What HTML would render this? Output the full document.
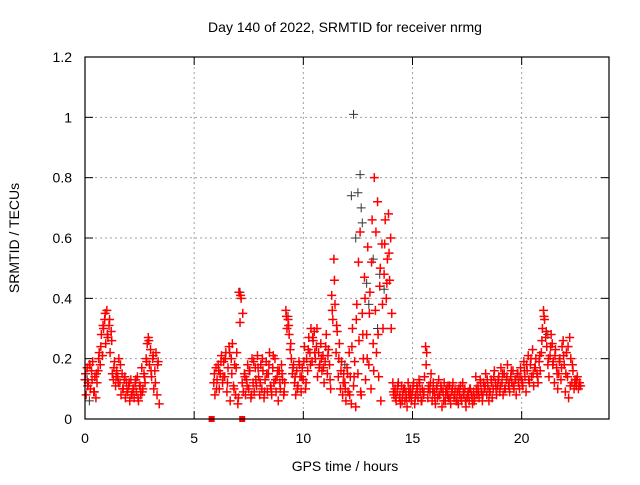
<!DOCTYPE html>
<html><head><meta charset="utf-8"><style>
body{margin:0;background:#fff;}
svg{font-family:"Liberation Sans",sans-serif;}
</style></head><body>
<svg id="chart" width="640" height="480" xmlns="http://www.w3.org/2000/svg">
<rect width="640" height="480" fill="#fff"/>
<text x="345" y="32" text-anchor="middle" font-size="14">Day 140 of 2022, SRMTID for receiver nrmg</text>
<text x="345" y="471" text-anchor="middle" font-size="14">GPS time / hours</text>
<text transform="translate(19,238) rotate(-90)" text-anchor="middle" font-size="14">SRMTID / TECUs</text>
<g id="grid"></g>
<g id="axes"></g>
<g id="black"></g>
<g id="red"></g>
<rect x="85" y="57" width="524" height="362" fill="none" stroke="#000" stroke-width="1.2"/>
</svg>
<script>
const xTicks=[0,5,10,15,20];
const yTicks=[0,0.2,0.4,0.6,0.8,1,1.2];
const yTickLabels=["0","0.2","0.4","0.6","0.8","1","1.2"];
const segAStart=0, segAStep=0.05;
const segAValues=[0.13,0.08,0.17,0.12,0.18,0.10,0.16,0.19,0.09,0.14,0.07,0.12,0.16,0.22,0.18,0.28,0.21,0.30,0.33,0.25,0.36,0.27,0.31,0.22,0.29,0.15,0.13,0.19,0.11,0.16,0.14,0.20,0.12,0.08,0.15,0.10,0.13,0.07,0.12,0.09,0.11,0.06,0.13,0.08,0.10,0.07,0.12,0.09,0.14,0.06,0.11,0.08,0.17,0.10,0.15,0.12,0.20,0.25,0.27,0.18,0.23,0.14,0.20,0.10,0.16,0.22,0.08,0.19,0.05];
const segA2Start=0.025, segA2Step=0.1;
const segA2Values=[0.15,0.11,0.18,0.13,0.09,0.15,0.20,0.24,0.31,0.35,0.28,0.33,0.26,0.17,0.14,0.12,0.18,0.10,0.14,0.09,0.12,0.08,0.10,0.13,0.07,0.11,0.09,0.14,0.19,0.26,0.16,0.21,0.12,0.18];
const segBStart=5.9, segBStep=0.05;
const segBValues=[0.12,0.08,0.17,0.13,0.18,0.10,0.15,0.21,0.12,0.19,0.14,0.22,0.09,0.17,0.24,0.06,0.20,0.25,0.11,0.18,
0.08,0.22,0.05,0.42,0.32,0.40,0.12,0.09,0.15,0.08,0.13,0.18,0.10,0.16,0.07,0.20,0.12,0.09,0.17,0.11,
0.21,0.14,0.08,0.18,0.10,0.16,0.07,0.13,0.19,0.09,0.15,0.22,0.11,0.08,0.17,0.12,0.20,0.09,0.14,0.06,
0.16,0.10,0.18,0.13,0.08,0.12,0.36,0.30,0.33,0.28,0.23,0.20,0.15,0.18,0.12,0.08,0.16,0.11,0.19,0.14,
0.09,0.17,0.13,0.24,0.10,0.20,0.16,0.27,0.22,0.30,0.19,0.26,0.29,0.20,0.24,0.14,0.22,0.18,0.25,0.16,
0.21,0.12,0.19,0.28,0.15,0.23,0.18,0.10,0.41,0.33,0.53,0.38,0.22,0.29,0.14,0.25,0.10,0.19,0.08,0.15,
0.12,0.06,0.17,0.09,0.22,0.14,0.05,0.30,0.11,0.19,0.04,0.38,0.15,0.26,0.62,0.08,0.35,0.20,0.47,0.13,
0.28,0.57,0.18,0.42,0.10,0.66,0.25,0.80,0.36,0.22,0.72,0.14,0.44,0.06,0.58,0.30,0.48,0.66,0.40,0.53,
0.68,0.46,0.60,0.35,0.12,0.08,0.10,0.06,0.09,0.12,0.07,0.05,0.11,0.08,0.10,0.06,0.09,0.04,0.12,0.07,
0.10,0.06,0.09,0.12,0.05,0.08,0.11,0.07,0.13,0.09,0.06,0.10,0.08,0.14,0.24,0.22,0.07,0.11,0.09,0.15,
0.06,0.12,0.09,0.05,0.10,0.07,0.13,0.08,0.11,0.04,0.09,0.12,0.06,0.10,0.08,0.07,0.11,0.05,0.09,0.12,
0.07,0.10,0.06,0.09,0.05,0.08,0.11,0.06,0.12,0.08,0.10,0.04,0.07,0.09,0.06,0.10,0.08,0.05,0.09,0.07,
0.14,0.08,0.11,0.07,0.13,0.09,0.06,0.12,0.10,0.15,0.08,0.11,0.06,0.09,0.13,0.07,0.10,0.16,0.12,0.08,
0.11,0.14,0.09,0.17,0.12,0.08,0.15,0.10,0.13,0.18,0.11,0.09,0.14,0.12,0.16,0.10,0.13,0.08,0.15,0.12,
0.10,0.17,0.13,0.11,0.19,0.14,0.09,0.16,0.21,0.12,0.18,0.14,0.23,0.11,0.17,0.20,0.15,0.12,0.19,0.16,
0.22,0.30,0.36,0.33,0.27,0.24,0.18,0.14,0.21,0.28,0.25,0.19,0.12,0.23,0.17,0.10,0.15,0.20,0.13,0.24,
0.26,0.18,0.09,0.22,0.14,0.07,0.27,0.20,0.12,0.16,0.10,0.13,0.11,0.14,0.10,0.12,0.11];
const segB2Start=5.925, segB2Step=0.1;
const segB2Values=[0.15,0.10,0.16,0.19,0.14,0.20,0.12,0.22,0.15,0.10,
0.17,0.07,0.41,0.35,0.14,0.11,0.16,0.08,0.19,0.13,
0.17,0.12,0.20,0.09,0.15,0.18,0.10,0.21,0.13,0.16,
0.12,0.15,0.09,0.34,0.31,0.25,0.17,0.14,0.10,0.18,
0.14,0.19,0.12,0.23,0.18,0.27,0.22,0.30,0.17,0.20,
0.17,0.24,0.21,0.13,0.36,0.46,0.31,0.20,0.16,0.12,
0.10,0.15,0.08,0.24,0.14,0.33,0.52,0.09,0.28,0.40,
0.20,0.35,0.52,0.16,0.62,0.28,0.50,0.38,0.58,0.45,
0.55,0.30,0.09,0.07,0.11,0.08,0.06,0.10,0.07,0.09,
0.08,0.11,0.07,0.10,0.12,0.06,0.09,0.18,0.10,0.12,
0.09,0.07,0.11,0.08,0.10,0.06,0.09,0.11,0.07,0.10,
0.08,0.06,0.10,0.07,0.09,0.06,0.08,0.10,0.07,0.06,
0.10,0.09,0.12,0.08,0.11,0.13,0.09,0.12,0.14,0.10,
0.13,0.11,0.15,0.10,0.14,0.12,0.16,0.11,0.13,0.15,
0.14,0.12,0.16,0.18,0.13,0.20,0.15,0.17,0.14,0.21,
0.26,0.34,0.29,0.20,0.24,0.18,0.21,0.15,0.19,0.17,
0.21,0.15,0.24,0.11,0.18,0.12,0.13,0.11];
const zeroTimes=[5.8,7.2];
const blackTimes=[12.3,12.6,12.5,12.4,12.7,12.65,13.5,13.2,7.1,13.7,12.2,13.0,12.9,11.9,0.2,9.3,21.2,0.1,13.4];
const blackValues=[1.01,0.81,0.75,0.60,0.65,0.70,0.48,0.53,0.42,0.43,0.74,0.38,0.45,0.18,0.06,0.34,0.28,0.13,0.30];

const X0=85,X1=609,Y0=419,Y1=57,XMAX=24,YMAX=1.2;
const sx=t=>X0+(X1-X0)*t/XMAX;
const sy=v=>Y0-(Y0-Y1)*v/YMAX;
const NS='http://www.w3.org/2000/svg';
function mk(tag,attrs,parent){const e=document.createElementNS(NS,tag);for(const k in attrs)e.setAttribute(k,attrs[k]);parent.appendChild(e);return e;}
const grid=document.getElementById('grid'),axes=document.getElementById('axes');
xTicks.forEach(t=>{
  const x=sx(t);
  if(t>0){const g=mk('line',{x1:x,x2:x,y1:Y1,y2:Y0,stroke:'#a0a0a0','stroke-dasharray':'2,3'},grid);
  
  }
  mk('line',{x1:x,x2:x,y1:Y0,y2:Y0-8,stroke:'#000'},axes);
  mk('line',{x1:x,x2:x,y1:Y1,y2:Y1+8,stroke:'#000'},axes);
  const l=mk('text',{x:x,y:443,'text-anchor':'middle','font-size':'14'},axes);
  l.textContent=t;
  
  
});
yTicks.forEach((v,i)=>{
  const y=sy(v);
  if(v>0&&v<YMAX){const g=mk('line',{x1:X0,x2:X1,y1:y,y2:y,stroke:'#a0a0a0','stroke-dasharray':'2,3'},grid);
  
  }
  mk('line',{x1:X0,x2:X0+8,y1:y,y2:y,stroke:'#000'},axes);
  mk('line',{x1:X1,x2:X1-8,y1:y,y2:y,stroke:'#000'},axes);
  const l=mk('text',{x:72,y:y+5,'text-anchor':'end','font-size':'14'},axes);
  l.textContent=yTickLabels[i];
  
  
});
function plus(t,v,col,w,parent){
  const x=sx(t),y=sy(v);
  const p=mk('path',{d:`M${x-4.5},${y}h9M${x},${y-4.5}v9`,stroke:col,'stroke-width':w,fill:'none'},parent);
  
  
}
const black=document.getElementById('black'),red=document.getElementById('red');
blackTimes.forEach((t,i)=>plus(t,blackValues[i],'#333','1',black));
segAValues.forEach((v,i)=>plus(segAStart+i*segAStep,v,'#ff0000','1.5',red));
segA2Values.forEach((v,i)=>plus(segA2Start+i*segA2Step,v,'#ff0000','1.5',red));
segBValues.forEach((v,i)=>plus(segBStart+i*segBStep,v,'#ff0000','1.5',red));
segB2Values.forEach((v,i)=>plus(segB2Start+i*segB2Step,v,'#ff0000','1.5',red));
zeroTimes.forEach(t=>{
  const r=mk('rect',{x:sx(t)-3,y:sy(0)-3,width:6,height:6,fill:'#ff0000'},red);
  
  
});
</script>
</body></html>
